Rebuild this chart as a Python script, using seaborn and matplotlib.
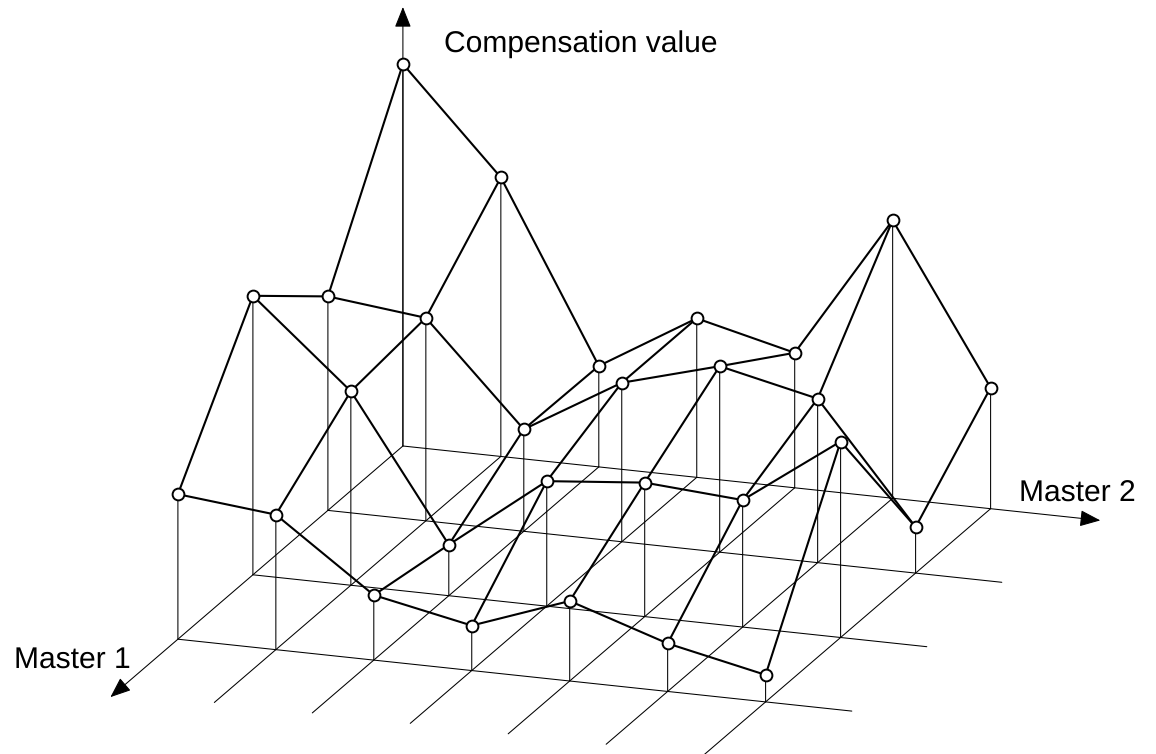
import numpy as np
import pandas as pd
import seaborn as sns
import matplotlib.pyplot as plt

# compensation value on the grid, one list per Master 1 step (back row first)
master1_back = [382, 279, 101, 159, 135, 278, 121]
master1_second = [214, 203, 102, 159, 186, 164, 46]
master1_third = [279, 194, 51, 125, 134, 127, 196]
master1_front = [145, 135, 65, 45, 80, 48, 27]
master2_steps = [0, 1, 2, 3, 4, 5, 6]
master1_steps = [0, 1, 2, 3]

# oblique projection of the floor grid, in pixels
ORIGIN = (402.9, 446.0)
STEP2 = (97.95, 10.45)
STEP1 = (-75.0, 64.4)


def px(m1, m2):
    return ORIGIN[0] + m2 * STEP2[0] + m1 * STEP1[0]


def py(m1, m2, value=0):
    return ORIGIN[1] + m2 * STEP2[1] + m1 * STEP1[1] - value


values = [master1_back, master1_second, master1_third, master1_front]
rows = []
for m1, row in zip(master1_steps, values):
    for m2, v in zip(master2_steps, row):
        rows.append({"m1": m1, "m2": m2, "value": v, "x": px(m1, m2),
                     "y": py(m1, m2, v), "base_y": py(m1, m2)})
df = pd.DataFrame(rows)

sns.set_theme(style="white")
plt.rcParams["font.family"] = ["Liberation Sans", "DejaVu Sans"]
plt.rcParams["text.hinting"] = "no_hinting"
plt.rcParams["text.hinting_factor"] = 1

fig = plt.figure(figsize=(11.56, 7.54), dpi=100)
ax = fig.add_axes([0, 0, 1, 1])

# floor grid lines, they run a bit past the front and right edge
THIN = 0.75
for m1 in master1_steps[1:]:
    ext = 6.88
    floor = pd.DataFrame({"x": [px(m1, 0), px(m1, ext)], "y": [py(m1, 0), py(m1, ext)]})
    sns.lineplot(data=floor, x="x", y="y", color="black", lw=THIN, sort=False,
                 estimator=None, ax=ax)
for m2 in master2_steps[1:]:
    ext = 3.82
    floor = pd.DataFrame({"x": [px(0, m2), px(ext, m2)], "y": [py(0, m2), py(ext, m2)]})
    sns.lineplot(data=floor, x="x", y="y", color="black", lw=THIN, sort=False,
                 estimator=None, ax=ax)

# stems from the floor up to each point
stems = pd.concat([
    df.assign(stem=df.index, py=df["base_y"]),
    df.assign(stem=df.index, py=df["y"]),
])
sns.lineplot(data=stems, x="x", y="py", units="stem", estimator=None, sort=False,
             color="black", lw=THIN, ax=ax)

# the surface itself
sns.lineplot(data=df, x="x", y="y", units="m1", estimator=None, sort=False,
             color="black", lw=1.5, ax=ax)
sns.lineplot(data=df.sort_values(["m2", "m1"]), x="x", y="y", units="m2", estimator=None,
             sort=False, color="black", lw=1.5, ax=ax)
for line in ax.lines:
    line.set_snap(False)

sns.scatterplot(data=df, x="x", y="y", s=72, color="white", edgecolor="black",
                linewidth=1.4, zorder=5, ax=ax)

# axis arrows
arrow = dict(arrowstyle="-|>,head_length=0.75,head_width=0.3", color="black", lw=THIN,
             mutation_scale=17, shrinkA=0, shrinkB=0)
ax.annotate("", xy=(ORIGIN[0], 7), xytext=ORIGIN, arrowprops=arrow)
ax.annotate("", xy=(px(0, 7.12), py(0, 7.12)), xytext=ORIGIN, arrowprops=arrow)
ax.annotate("", xy=(px(3.9, 0), py(3.9, 0)), xytext=ORIGIN, arrowprops=arrow)

ax.text(443.5, 52, "Compensation value", fontsize=21.6, color="black", va="baseline", ha="left")
ax.text(1019, 502, "Master 2", fontsize=21.6, color="black", va="baseline", ha="left")
ax.text(14.5, 668, "Master 1", fontsize=21.6, color="black", va="baseline", ha="left")

ax.set_xlim(0, 1156)
ax.set_ylim(754, 0)
ax.axis("off")

fig.savefig("out.png", dpi=100)
